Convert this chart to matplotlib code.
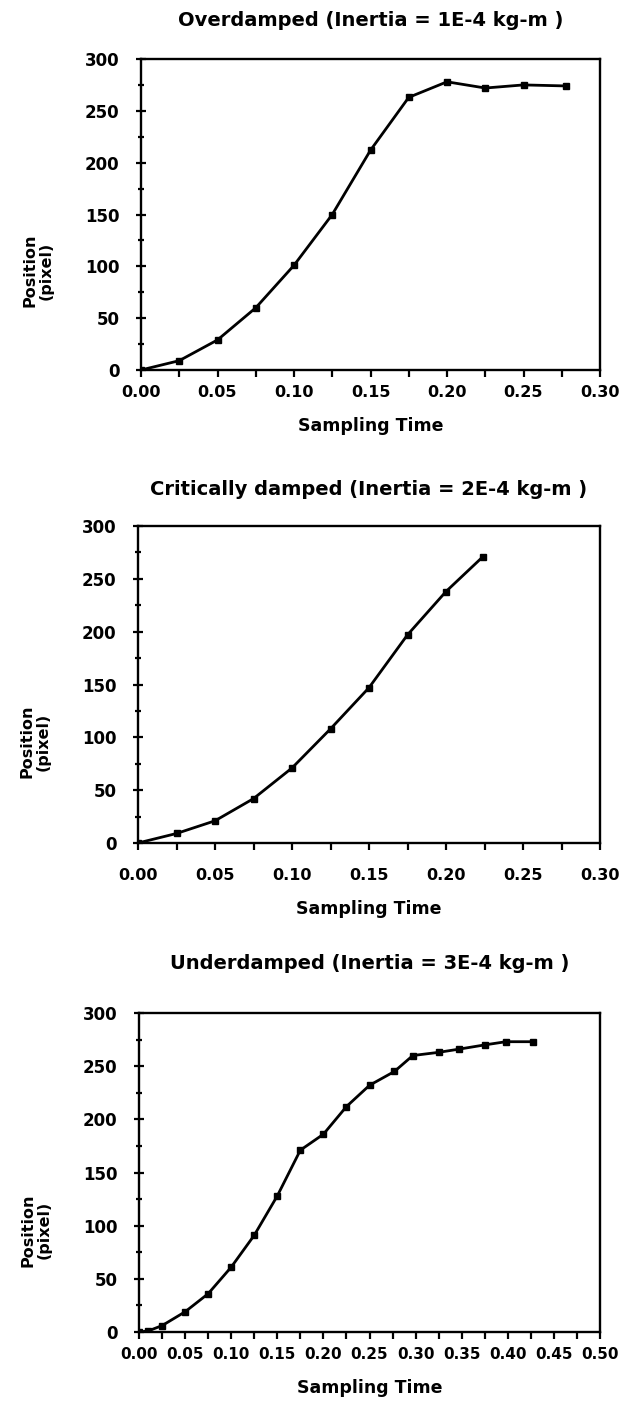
"""
position vs sampling time for three damping cases (step response)
"""

import matplotlib.pyplot as plt
from matplotlib.ticker import MultipleLocator, FormatStrFormatter

# overdamped run
t_over = [0.0, 0.025, 0.05, 0.075, 0.1, 0.125, 0.15, 0.175, 0.2, 0.225, 0.25, 0.278]
pos_over = [0, 9, 29, 60, 101, 150, 212, 263, 278, 272, 275, 274]

# critically damped run
t_crit = [0.0, 0.025, 0.05, 0.075, 0.1, 0.125, 0.15, 0.175, 0.2, 0.224]
pos_crit = [0, 9, 21, 42, 71, 108, 147, 197, 238, 271]

# underdamped run
t_under = [0.0, 0.01, 0.025, 0.05, 0.075, 0.1, 0.125, 0.15, 0.175, 0.2,
           0.225, 0.25, 0.277, 0.297, 0.325, 0.347, 0.375, 0.398, 0.427]
pos_under = [0, 1, 6, 19, 36, 61, 91, 128, 171, 186,
             212, 232, 245, 260, 263, 266, 270, 273, 273]

titles = ["Overdamped (Inertia = 1E-4 kg-m )",
          "Critically damped (Inertia = 2E-4 kg-m )",
          "Underdamped (Inertia = 3E-4 kg-m )"]
xmax = [0.30, 0.30, 0.50]

plt.rcParams['font.family'] = 'DejaVu Sans'
plt.rcParams['font.weight'] = 'bold'

fig = plt.figure(figsize=(6.28, 14.14), dpi=100)

# axes boxes in pixels: left, top, right, bottom
boxes = [(141, 59, 600, 370), (138, 526, 600, 843), (139, 1013, 600, 1332)]
W, H = 628.0, 1414.0
title_pad = [24, 22, 32]
xtick_pad = [6, 13, 6]
xtick_size = [11.5, 11.5, 11]

data = [(t_over, pos_over), (t_crit, pos_crit), (t_under, pos_under)]

for k in range(3):
    l, t, r, b = boxes[k]
    ax = fig.add_axes([l / W, 1 - b / H, (r - l) / W, (b - t) / H])
    t_k, p_k = data[k]
    ax.plot(t_k, p_k, color='black', lw=2.0, marker='s', ms=4,
            mfc='black', mec='black')

    ax.set_xlim(0, xmax[k])
    ax.set_ylim(0, 300)
    ax.xaxis.set_major_locator(MultipleLocator(0.05))
    ax.xaxis.set_minor_locator(MultipleLocator(0.025))
    ax.xaxis.set_major_formatter(FormatStrFormatter('%.2f'))
    ax.yaxis.set_major_locator(MultipleLocator(50))
    ax.yaxis.set_minor_locator(MultipleLocator(25))

    for s in ax.spines.values():
        s.set_linewidth(1.7)
    ax.tick_params(axis='x', which='both', direction='out', length=5, width=1.6,
                   labelsize=xtick_size[k], pad=xtick_pad[k])
    ax.tick_params(axis='y', which='major', direction='inout', length=7, width=1.6,
                   labelsize=12, pad=12)
    ax.tick_params(axis='y', which='minor', direction='inout', length=5, width=1.6)

    ax.set_title(titles[k], fontsize=14, fontweight='bold', pad=title_pad[k])
    ax.set_xlabel("Sampling Time", fontsize=12.5, fontweight='bold', labelpad=12)
    ax.set_ylabel("Position\n(pixel)", fontsize=11.5, fontweight='bold', linespacing=1.1)
    ax.yaxis.set_label_coords(-0.19, 0.32)

fig.savefig("out.png", dpi=100)
